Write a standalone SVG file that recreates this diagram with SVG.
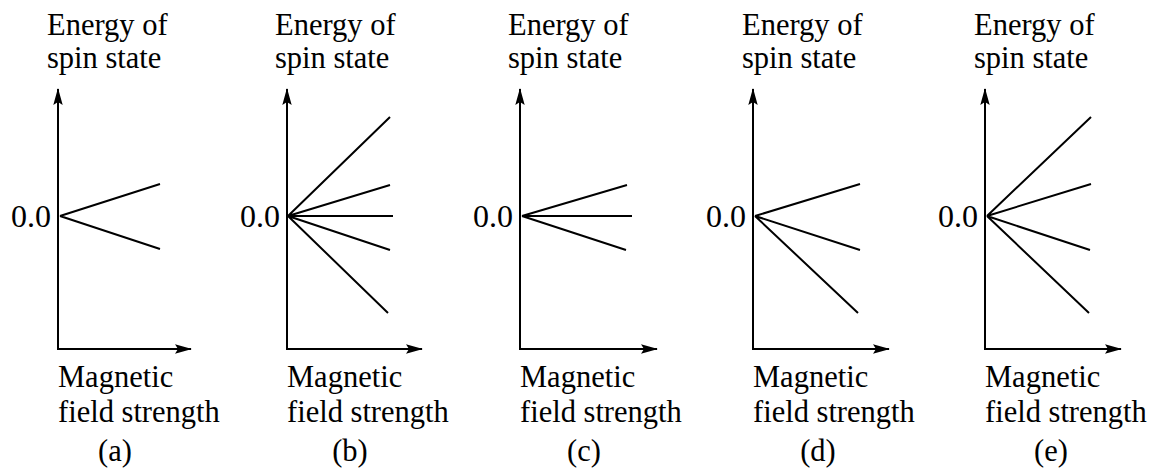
<svg xmlns="http://www.w3.org/2000/svg" width="1159" height="474" viewBox="0 0 1159 474">
<style>
text{font-size:30.5px;fill:#000}
.ax{stroke:#000;stroke-width:2;fill:none}
.ln{stroke:#000;stroke-width:2;fill:none}
.c{text-anchor:middle}
.z{text-anchor:end;font-size:32px}
</style>
<defs>
<marker id="ah" viewBox="0 0 17 10" refX="16" refY="5" markerWidth="17" markerHeight="10" markerUnits="userSpaceOnUse" orient="auto">
<path d="M0,0.3 L17,5 L0,9.7 L3,5 Z" fill="#000"/>
</marker>
</defs>
<rect width="1159" height="474" fill="#fff"/>

<g font-family="Liberation Serif, DejaVu Serif, serif">
<g id="panel-a">
<text x="47" y="35">Energy of</text>
<text x="47" y="68">spin state</text>
<text class="z" x="51" y="227">0.0</text>
<text x="58" y="387">Magnetic</text>
<text x="58" y="422">field strength</text>
<text class="c" x="115" y="461">(a)</text>
</g>
<g id="panel-b">
<text x="275" y="35">Energy of</text>
<text x="275" y="68">spin state</text>
<text class="z" x="280" y="227">0.0</text>
<text x="287" y="387">Magnetic</text>
<text x="287" y="422">field strength</text>
<text class="c" x="350" y="461">(b)</text>
</g>
<g id="panel-c">
<text x="508" y="35">Energy of</text>
<text x="508" y="68">spin state</text>
<text class="z" x="513" y="227">0.0</text>
<text x="520" y="387">Magnetic</text>
<text x="520" y="422">field strength</text>
<text class="c" x="584" y="461">(c)</text>
</g>
<g id="panel-d">
<text x="742" y="35">Energy of</text>
<text x="742" y="68">spin state</text>
<text class="z" x="746" y="227">0.0</text>
<text x="753" y="387">Magnetic</text>
<text x="753" y="422">field strength</text>
<text class="c" x="818" y="461">(d)</text>
</g>
<g id="panel-e">
<text x="974" y="35">Energy of</text>
<text x="974" y="68">spin state</text>
<text class="z" x="978" y="227">0.0</text>
<text x="985" y="387">Magnetic</text>
<text x="985" y="422">field strength</text>
<text class="c" x="1051" y="461">(e)</text>
</g>
</g>

<g id="connectors">
<path class="ax" d="M58,349 V89" marker-end="url(#ah)"/>
<path class="ax" d="M57,349 H191" marker-end="url(#ah)"/>
<path class="ax" d="M287,349 V89" marker-end="url(#ah)"/>
<path class="ax" d="M286,349 H422" marker-end="url(#ah)"/>
<path class="ax" d="M520,349 V89" marker-end="url(#ah)"/>
<path class="ax" d="M519,349 H657" marker-end="url(#ah)"/>
<path class="ax" d="M753,349 V89" marker-end="url(#ah)"/>
<path class="ax" d="M752,349 H889" marker-end="url(#ah)"/>
<path class="ax" d="M985,349 V89" marker-end="url(#ah)"/>
<path class="ax" d="M984,349 H1121" marker-end="url(#ah)"/>
<path class="ln" d="M60,216 L160,184 M60,216 L160,249"/>
<path class="ln" d="M288,216 L390,117 M288,216 L390,185 M288,216 L393,216 M288,216 L390,250 M288,216 L388,313"/>
<path class="ln" d="M522,216 L627,185 M522,216 L632,216 M522,216 L626,250"/>
<path class="ln" d="M755,216 L860,184 M755,216 L860,250 M755,216 L858,313"/>
<path class="ln" d="M987,216 L1091,117 M987,216 L1091,184 M987,216 L1090,250 M987,216 L1089,313"/>
</g>
</svg>
